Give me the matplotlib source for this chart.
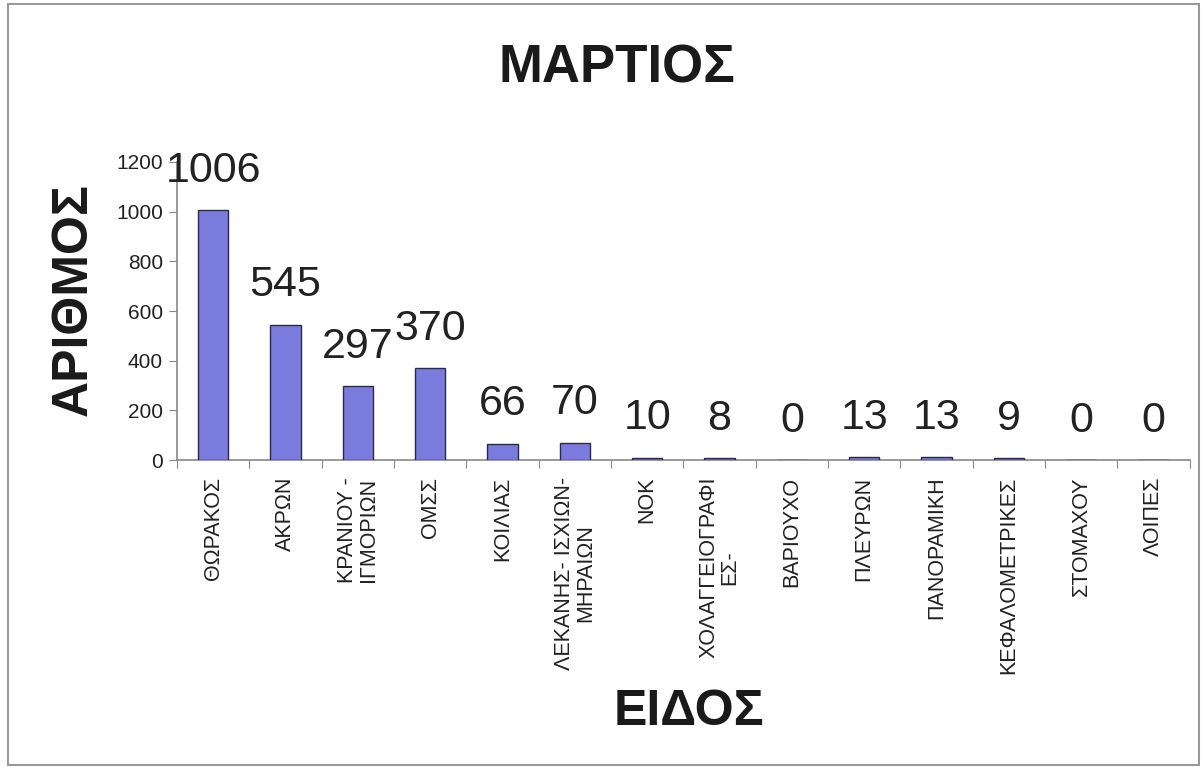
import matplotlib
matplotlib.use("Agg")
import matplotlib.pyplot as plt
from matplotlib.patches import Rectangle
import numpy as np

plt.rcParams['font.family'] = ['Liberation Sans', 'DejaVu Sans']

categories = ["ΘΩΡΑΚΟΣ", "ΑΚΡΩΝ", "ΚΡΑΝΙΟΥ -\nΙΓΜΟΡΙΩΝ", "ΟΜΣΣ", "ΚΟΙΛΙΑΣ",
              "ΛΕΚΑΝΗΣ- ΙΣΧΙΩΝ-\nΜΗΡΑΙΩΝ", "ΝΟΚ", "ΧΟΛΑΓΓΕΙΟΓΡΑΦΙ\nΕΣ-", "ΒΑΡΙΟΥΧΟ",
              "ΠΛΕΥΡΩΝ", "ΠΑΝΟΡΑΜΙΚΗ", "ΚΕΦΑΛΟΜΕΤΡΙΚΕΣ", "ΣΤΟΜΑΧΟΥ", "ΛΟΙΠΕΣ"]
values = [1006, 545, 297, 370, 66, 70, 10, 8, 0, 13, 13, 9, 0, 0]
yticks = [0, 200, 400, 600, 800, 1000, 1200]

fig = plt.figure(figsize=(12.03, 7.67), dpi=100)
fig.patch.set_facecolor('white')
ax = fig.add_axes([0.147, 0.400, 0.842, 0.389])

x = np.arange(len(categories))
bars = ax.bar(x, values, width=0.42, color='#7b7bde', edgecolor='#2a2a40', linewidth=1.0, zorder=3)

ax.set_xlim(-0.5, len(categories) - 0.5)
ax.set_ylim(0, 1200)
ax.set_yticks(yticks)
ax.set_yticklabels([str(t) for t in yticks], fontsize=15, color='#222222')

# category ticks between bars, labels at centers
ax.set_xticks(np.arange(-0.5, len(categories) + 0.5, 1.0))
ax.set_xticklabels([])
ax.set_xticks(x, minor=True)
ax.set_xticklabels(categories, minor=True, rotation=90, fontsize=15.5, color='#222222',
                   ha='center', va='top', multialignment='center', linespacing=1.0)
ax.tick_params(axis='x', which='major', direction='out', length=6, color='#888888')
ax.tick_params(axis='x', which='minor', length=0, pad=12)
ax.tick_params(axis='y', direction='out', length=6, color='#888888', pad=4)

for s in ['top', 'right']:
    ax.spines[s].set_visible(False)
for s in ['left', 'bottom']:
    ax.spines[s].set_color('#888888')
    ax.spines[s].set_linewidth(1.2)

for xi, v in zip(x, values):
    ax.annotate(str(v), (xi, v), xytext=(0, 14), textcoords='offset points',
                ha='center', va='bottom', fontsize=31, color='#222222')

fig.text(0.513, 0.911, "ΜΑΡΤΙΟΣ", ha='center', va='center', fontsize=38,
         fontweight='bold', color='#1a1a1a')
fig.text(0.061, 0.609, "ΑΡΙΘΜΟΣ", ha='center', va='center', fontsize=36,
         fontweight='bold', rotation=90, color='#1a1a1a')
fig.text(0.573, 0.072, "ΕΙΔΟΣ", ha='center', va='center', fontsize=36,
         fontweight='bold', color='#1a1a1a')

fig.patches.append(Rectangle((0.007, 0.003), 0.99, 0.992, transform=fig.transFigure,
                             fill=False, edgecolor='#999999', linewidth=1.5))

fig.savefig("out.png", dpi=100, facecolor='white')
